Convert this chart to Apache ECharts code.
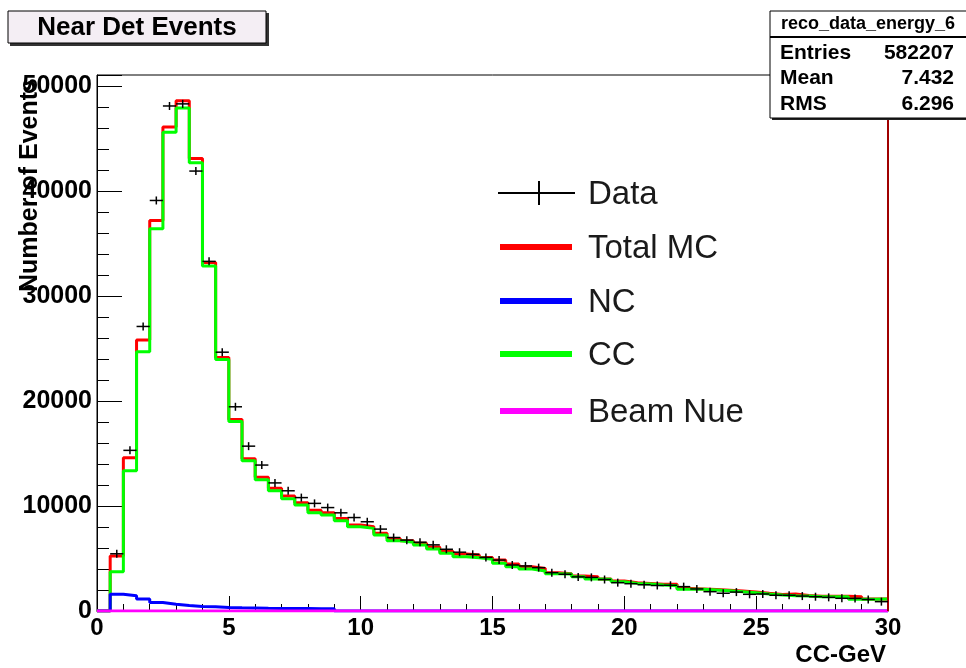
<!DOCTYPE html>
<html>
<head>
<meta charset="utf-8">
<script src="https://cdn.jsdelivr.net/npm/echarts@6/dist/echarts.min.js"></script>
<style>
html,body{margin:0;padding:0;background:#fff;}
#chart{width:966px;height:668px;}
</style>
</head>
<body>
<div id="chart"></div>
<script>
// ---- data (bins of 0.5 GeV from 0 to 30) ----
const BIN_START = 0;
const BIN_WIDTH = 0.5;
const xTicks = [0, 5, 10, 15, 20, 25, 30];
const yTicks = [0, 10000, 20000, 30000, 40000, 50000];

const totalMC = [
  0, 5240, 14600, 25800, 37200, 46100, 48600, 43100, 33200, 24150,
  18250, 14500, 12750, 11700, 10950, 10300, 9600, 9350, 8800, 8200,
  8030, 7400, 6900, 6700, 6450, 6100, 5700, 5430, 5330, 5100,
  4850, 4480, 4220, 4060, 3650, 3550, 3330, 3270, 3050, 2850,
  2680, 2630, 2540, 2540, 2150, 2100, 2050, 1980, 1900, 1800,
  1680, 1580, 1620, 1480, 1400, 1400, 1400, 1365, 1150, 1150
];
const ccMC = [
  0, 3750, 13350, 24700, 36400, 45600, 47900, 42700, 32850, 23950,
  18050, 14300, 12500, 11450, 10700, 10100, 9350, 9150, 8600, 8030,
  7870, 7240, 6700, 6540, 6290, 5900, 5500, 5170, 5080, 4920,
  4540, 4220, 4000, 3810, 3550, 3520, 3270, 3050, 3020, 2790,
  2630, 2580, 2480, 2410, 2065, 2065, 2000, 1935, 1840, 1746,
  1620, 1524, 1460, 1430, 1365, 1365, 1365, 1114, 1114, 1140
];
const dataEvents = [
  0, 5450, 15300, 27100, 39100, 48100, 48300, 41900, 33300, 24650,
  19450, 15700, 13900, 12200, 11450, 10800, 10250, 9850, 9350, 8900,
  8500, 7800, 7000, 6750, 6550, 6300, 5880, 5600, 5400, 5100,
  4850, 4380, 4290, 4130, 3650, 3500, 3250, 3200, 3000, 2700,
  2600, 2500, 2430, 2450, 2320, 2100, 1840, 1690, 1800, 1590,
  1620, 1500, 1500, 1420, 1360, 1300, 1210, 1200, 1100, 890
];
const ncMC = [
  0, 1600, 1450, 1150, 800, 650, 520, 420, 400, 330,
  300, 280, 260, 250, 240, 230, 220, 210, 0, 0,
  0, 0, 0, 0, 0, 0, 0, 0, 0, 0,
  0, 0, 0, 0, 0, 0, 0, 0, 0, 0,
  0, 0, 0, 0, 0, 0, 0, 0, 0, 0,
  0, 0, 0, 0, 0, 0, 0, 0, 0, 0
];
const beamNue = [
  0, 0, 0, 0, 0, 0, 0, 0, 0, 0,
  0, 0, 0, 0, 0, 0, 0, 0, 0, 0,
  0, 0, 0, 0, 0, 0, 0, 0, 0, 0,
  0, 0, 0, 0, 0, 0, 0, 0, 0, 0,
  0, 0, 0, 0, 0, 0, 0, 0, 0, 0,
  0, 0, 0, 0, 0, 0, 0, 0, 0, 0
];
const legendNames = ['Data', 'Total MC', 'NC', 'CC', 'Beam Nue'];
const statsTitle = 'reco_data_energy_6';
const statsRows = [['Entries', '582207'], ['Mean', '7.432'], ['RMS', '6.296']];

// ---- build ----
const FONT = '"Liberation Sans", Arial, Helvetica, sans-serif';
function stepData(vals) {
  const d = vals.map((v, i) => [BIN_START + i * BIN_WIDTH, v]);
  d.push([BIN_START + vals.length * BIN_WIDTH, vals[vals.length - 1]]);
  return d;
}
function histSeries(name, vals, color, extra) {
  return Object.assign({
    name: name, type: 'line', step: 'end', data: stepData(vals),
    symbol: 'none', showSymbol: false, yAxisIndex: 0,
    lineStyle: { color: color, width: 3 }, itemStyle: { color: color },
    animation: false, silent: true
  }, extra || {});
}
const dataCross = dataEvents.map((v, i) => [BIN_START + i * BIN_WIDTH, BIN_START + (i + 1) * BIN_WIDTH, v]).filter(d => d[2] > 0);

const chart = echarts.init(document.getElementById('chart'), null, { renderer: 'canvas' });

const legendColors = ['#000000', '#ff0000', '#0000ff', '#00ff00', '#ff00ff'];
const legendY = [193, 247, 301, 354, 411];
const legendGraphics = [];
legendNames.forEach((n, i) => {
  const y = legendY[i];
  if (i === 0) {
    legendGraphics.push({ type: 'line', shape: { x1: 498, y1: y, x2: 575, y2: y }, style: { stroke: '#000', lineWidth: 2 }, z: 100 });
    legendGraphics.push({ type: 'line', shape: { x1: 539, y1: y - 12, x2: 539, y2: y + 12 }, style: { stroke: '#000', lineWidth: 2 }, z: 100 });
  } else {
    legendGraphics.push({ type: 'rect', shape: { x: 500, y: y - 3, width: 72, height: 6 }, style: { fill: legendColors[i] }, z: 100 });
  }
  legendGraphics.push({ type: 'text', x: 588, y: y + 2, style: { text: n, font: '33px ' + FONT, fill: '#1a1a1a', textAlign: 'left', textVerticalAlign: 'middle' }, z: 100 });
});

const statsGraphics = [
  { type: 'rect', shape: { x: 772, y: 13, width: 200, height: 107 }, style: { fill: '#222' }, z: 110 },
  { type: 'rect', shape: { x: 770, y: 11, width: 200, height: 107 }, style: { fill: '#fff', stroke: '#000', lineWidth: 1 }, z: 111 },
  { type: 'line', shape: { x1: 770, y1: 37, x2: 966, y2: 37 }, style: { stroke: '#000', lineWidth: 2 }, z: 112 },
  { type: 'text', x: 868, y: 24, style: { text: statsTitle, font: 'bold 18px ' + FONT, fill: '#000', textAlign: 'center', textVerticalAlign: 'middle' }, z: 112 }
];
statsRows.forEach((r, i) => {
  const y = 53 + i * 25.7;
  statsGraphics.push({ type: 'text', x: 780, y: y, style: { text: r[0], font: 'bold 21px ' + FONT, fill: '#000', textAlign: 'left', textVerticalAlign: 'middle' }, z: 112 });
  statsGraphics.push({ type: 'text', x: 954, y: y, style: { text: r[1], font: 'bold 21px ' + FONT, fill: '#000', textAlign: 'right', textVerticalAlign: 'middle' }, z: 112 });
});

const option = {
  animation: false,
  backgroundColor: '#ffffff',
  grid: { left: 97, top: 75, width: 791, height: 536, show: true, borderColor: '#000', borderWidth: 1, backgroundColor: '#fff' },
  xAxis: {
    type: 'value', min: xTicks[0], max: xTicks[xTicks.length - 1], interval: 5,
    axisLine: { show: true, onZero: false, lineStyle: { color: '#000', width: 1 } },
    axisTick: { show: true, inside: true, length: 15, lineStyle: { color: '#000', width: 1 } },
    minorTick: { show: true, splitNumber: 5, length: 7, lineStyle: { color: '#000', width: 1 } },
    splitLine: { show: false }, minorSplitLine: { show: false },
    axisLabel: { color: '#000', fontSize: 24, fontWeight: 'bold', fontFamily: FONT, margin: 5 }
  },
  yAxis: [
    {
      type: 'value', min: 0, max: 51050, interval: 2000, position: 'left',
      axisLine: { show: true, onZero: false, lineStyle: { color: '#000', width: 1 } },
      axisTick: { show: true, inside: true, length: 12, lineStyle: { color: '#000', width: 1 } },
      axisLabel: { show: false }, splitLine: { show: false }
    },
    {
      type: 'value', min: 0, max: 51050, interval: 10000, position: 'left', offset: 0,
      axisLine: { show: false },
      axisTick: { show: true, inside: true, length: 25, lineStyle: { color: '#000', width: 1 } },
      axisLabel: {
        color: '#000', fontSize: 25, fontWeight: 'bold', fontFamily: FONT, margin: 5,
        formatter: v => (yTicks.indexOf(v) >= 0 ? String(v) : '')
      },
      splitLine: { show: false }
    }
  ],
  series: [
    histSeries('Total MC', totalMC, '#ff0000', {
      markLine: {
        silent: true, symbol: ['none', 'none'], label: { show: false },
        lineStyle: { color: '#a00000', width: 2, type: 'solid' },
        data: [{ xAxis: 30 }]
      }
    }),
    histSeries('CC', ccMC, '#00ff00'),
    histSeries('NC', ncMC, '#0000ff'),
    histSeries('Beam Nue', beamNue, '#ff00ff'),
    {
      name: 'Data', type: 'custom', yAxisIndex: 0, data: dataCross,
      encode: { x: [0, 1], y: 2 }, silent: true, z: 5,
      renderItem: function (params, api) {
        const v = api.value(2);
        const p0 = api.coord([api.value(0), v]);
        const p1 = api.coord([api.value(1), v]);
        const cx = (p0[0] + p1[0]) / 2;
        return {
          type: 'group', children: [
            { type: 'line', shape: { x1: p0[0], y1: p0[1], x2: p1[0], y2: p1[1] }, style: { stroke: '#000', lineWidth: 1.5 } },
            { type: 'line', shape: { x1: cx, y1: p0[1] - 4, x2: cx, y2: p0[1] + 4 }, style: { stroke: '#000', lineWidth: 1.5 } }
          ]
        };
      }
    }
  ],
  graphic: [
    // title box
    { type: 'rect', shape: { x: 10, y: 13, width: 259, height: 33 }, style: { fill: '#333' }, z: 100 },
    { type: 'rect', shape: { x: 8, y: 11, width: 258, height: 32 }, style: { fill: '#f4eef4', stroke: '#000', lineWidth: 1 }, z: 101 },
    { type: 'text', x: 137, y: 28, style: { text: 'Near Det Events', font: 'bold 26px ' + FONT, fill: '#000', textAlign: 'center', textVerticalAlign: 'middle' }, z: 102 },
    // y axis title
    { type: 'text', x: 30, y: 185, rotation: Math.PI / 2, style: { text: 'Number of Events', font: 'bold 25px ' + FONT, fill: '#000', textAlign: 'center', textVerticalAlign: 'middle' }, z: 102 },
    // x axis title
    { type: 'text', x: 886, y: 655, style: { text: 'CC-GeV', font: 'bold 24px ' + FONT, fill: '#000', textAlign: 'right', textVerticalAlign: 'middle' }, z: 102 }
  ].concat(legendGraphics, statsGraphics)
};
chart.setOption(option);
</script>
</body>
</html>
